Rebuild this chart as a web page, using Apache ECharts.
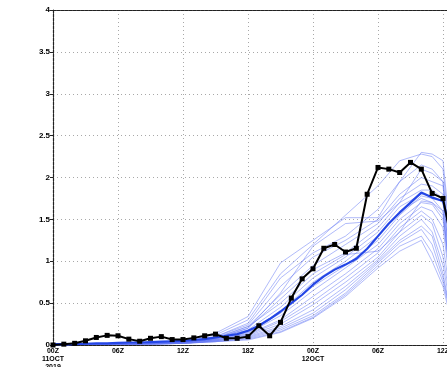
<!DOCTYPE html>
<html>
<head>
<meta charset="utf-8">
<style>
  html, body { margin: 0; padding: 0; background: #fff; }
  #chart { width: 447px; height: 367px; }
</style>
<script src="https://cdn.jsdelivr.net/npm/echarts@6/dist/echarts.min.js"></script>
</head>
<body>
<div id="chart"></div>
<script>
// Forecast hours since 00Z 11 OCT 2019
const hourlySteps = [0,1,2,3,4,5,6,7,8,9,10,11,12,13,14,15,16,17,18,19,20,21,22,23,24,25,26,27,28,29,30,31,32,33,34,35,36,37];

// Observed values (black line with square markers)
const observed = [0,0.01,0.02,0.05,0.09,0.115,0.11,0.07,0.045,0.08,0.10,0.065,0.065,0.085,0.11,0.13,0.08,0.08,0.10,0.23,0.11,0.27,0.56,0.79,0.91,1.155,1.20,1.11,1.155,1.80,2.12,2.10,2.06,2.18,2.10,1.81,1.75,1.10];

// Ensemble mean (thick blue line)
const ensembleMean = [0.01,0.01,0.01,0.015,0.02,0.02,0.025,0.03,0.03,0.035,0.04,0.045,0.05,0.06,0.07,0.09,0.11,0.13,0.17,0.23,0.31,0.40,0.50,0.60,0.72,0.82,0.90,0.96,1.03,1.15,1.30,1.45,1.58,1.70,1.82,1.76,1.72,1.20];

// Ensemble members (thin light-blue lines), sampled at memberHours
const memberHours = [0,3,6,9,12,15,18,21,24,27,30,32,34,35,36,37];
const member01 = [0,0.01,0.02,0.03,0.05,0.14,0.34,0.98,1.25,1.52,1.52,1.95,2.30,2.28,2.20,0.90];
const member02 = [0,0.01,0.02,0.03,0.05,0.12,0.30,0.85,1.20,1.55,1.90,2.20,2.28,2.25,2.10,0.80];
const member03 = [0,0.01,0.02,0.03,0.04,0.10,0.26,0.80,1.10,1.30,1.62,1.95,2.15,2.10,1.95,0.70];
const member04 = [0,0.01,0.02,0.03,0.04,0.10,0.24,0.70,1.05,1.25,1.50,1.80,2.00,1.95,1.90,0.60];
const member05 = [0,0.01,0.02,0.02,0.04,0.09,0.22,0.60,0.95,1.20,1.45,1.75,1.92,1.90,1.80,0.50];
const member06 = [0,0.01,0.01,0.02,0.04,0.08,0.20,0.55,0.90,1.10,1.40,1.70,1.85,1.85,1.75,0.60];
const member07 = [0,0.01,0.01,0.02,0.03,0.08,0.18,0.45,0.80,1.05,1.35,1.65,1.80,1.78,1.70,0.50];
const member08 = [0,0.01,0.01,0.02,0.03,0.07,0.16,0.40,0.75,1.00,1.30,1.60,1.75,1.70,1.55,0.45];
const member09 = [0,0.01,0.01,0.02,0.03,0.07,0.15,0.38,0.70,0.95,1.25,1.55,1.78,1.75,1.60,0.40];
const member10 = [0,0.01,0.01,0.02,0.03,0.06,0.14,0.35,0.65,0.92,1.20,1.50,1.70,1.68,1.50,0.40];
const member11 = [0,0.01,0.01,0.02,0.03,0.06,0.13,0.30,0.58,0.85,1.15,1.45,1.65,1.60,1.40,0.35];
const member12 = [0,0.01,0.01,0.02,0.03,0.06,0.12,0.28,0.52,0.80,1.10,1.40,1.60,1.50,1.20,0.30];
const member13 = [0,0.01,0.01,0.02,0.02,0.05,0.11,0.25,0.48,0.75,1.05,1.35,1.55,1.45,1.05,0.30];
const member14 = [0,0.01,0.01,0.01,0.02,0.05,0.10,0.22,0.42,0.70,1.02,1.30,1.50,1.35,0.95,0.25];
const member15 = [0,0.01,0.01,0.01,0.02,0.05,0.09,0.20,0.38,0.66,1.00,1.25,1.42,1.30,0.85,0.20];
const member16 = [0,0.01,0.01,0.01,0.02,0.04,0.08,0.18,0.35,0.62,0.98,1.22,1.38,1.20,0.80,0.20];
const member17 = [0,0.01,0.01,0.01,0.02,0.04,0.07,0.16,0.33,0.60,0.95,1.18,1.30,1.10,0.75,0.20];
const member18 = [0,0.01,0.01,0.01,0.02,0.04,0.06,0.15,0.32,0.58,0.92,1.12,1.25,1.00,0.70,0.15];
const member19 = [0,0.01,0.01,0.02,0.03,0.07,0.20,0.62,1.18,1.45,1.48,1.70,2.10,2.05,1.95,0.70];
const member20 = [0,0.01,0.01,0.02,0.03,0.08,0.22,0.50,0.85,1.08,1.12,1.35,1.72,1.70,1.60,0.50];
const members = [member01,member02,member03,member04,member05,member06,member07,member08,member09,member10,
                 member11,member12,member13,member14,member15,member16,member17,member18,member19,member20];

// Time-axis labels every 6 hours
const xTickLabels = ["00Z\n11OCT\n2019","06Z","12Z","18Z","00Z\n12OCT","06Z","12Z","18Z","00Z\n13OCT"];
const yTickLabels = ["0","0.5","1","1.5","2","2.5","3","3.5","4"];

const pairs = (xs, ys) => ys.map((v, i) => [xs[i], v]);

const memberSeries = members.map(m => ({
  type: 'line',
  data: pairs(memberHours, m),
  symbol: 'none',
  silent: true,
  lineStyle: { color: 'rgba(100,120,245,0.5)', width: 1 },
  z: 2
}));

const axisLineStyle = { color: '#222', width: 1.2, type: [3, 1] };
const gridLineStyle = { color: '#a8a8a8', width: 1, type: [1, 3] };

const chart = echarts.init(document.getElementById('chart'), null, { renderer: 'canvas' });
chart.setOption({
  animation: false,
  backgroundColor: '#fff',
  grid: { left: 53, top: 10, width: 520, height: 335, outerBoundsMode: 'none', containLabel: false },
  xAxis: [{
    type: 'value', min: 0, max: 48, interval: 6,
    axisLine: { show: true, lineStyle: axisLineStyle },
    axisTick: { show: false },
    splitLine: { show: true, lineStyle: gridLineStyle },
    axisLabel: {
      margin: 2, color: '#000', fontSize: 7, fontWeight: 'bold', lineHeight: 8,
      fontFamily: 'Liberation Sans, Arial, sans-serif',
      formatter: v => xTickLabels[Math.round(v / 6)] || ''
    }
  }, {
    type: 'value', min: 0, max: 48, interval: 6, position: 'top',
    axisLine: { show: true, lineStyle: axisLineStyle },
    axisTick: { show: false }, axisLabel: { show: false }, splitLine: { show: false }
  }],
  yAxis: {
    type: 'value', min: 0, max: 4, interval: 0.5,
    axisLine: { show: true, lineStyle: axisLineStyle },
    axisTick: { show: true, length: 3, lineStyle: { color: '#222', width: 1 } },
    splitLine: { show: true, lineStyle: gridLineStyle },
    axisLabel: {
      margin: 3, color: '#000', fontSize: 8, fontWeight: 'bold',
      fontFamily: 'Liberation Sans, Arial, sans-serif',
      formatter: v => yTickLabels[Math.round(v / 0.5)]
    }
  },
  series: [
    ...memberSeries,
    {
      type: 'line',
      data: pairs(hourlySteps, ensembleMean),
      symbol: 'none',
      lineStyle: { color: '#2446e6', width: 2.2 },
      z: 3
    },
    {
      type: 'line',
      data: pairs(hourlySteps, observed),
      symbol: 'rect', symbolSize: 5,
      itemStyle: { color: '#000' },
      lineStyle: { color: '#000', width: 2 },
      z: 4
    }
  ]
});
</script>
</body>
</html>
